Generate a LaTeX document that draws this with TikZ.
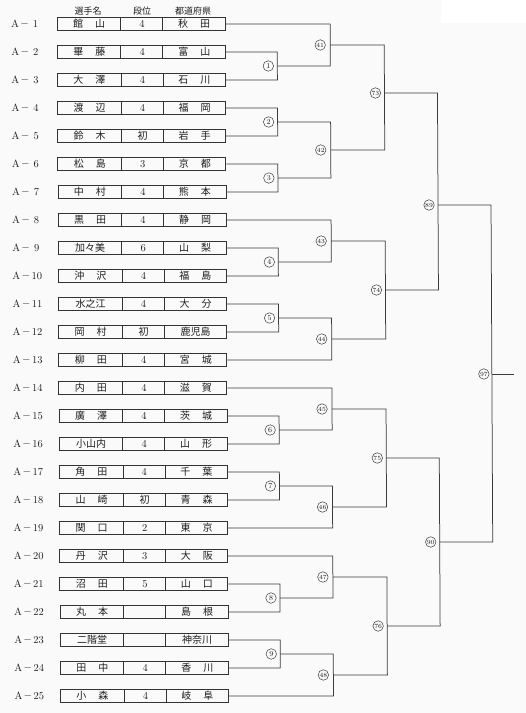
\documentclass[tikz,border=0pt]{standalone}
\usepackage{fontspec}
\newfontfamily\jp{Noto Sans CJK JP}
\newcommand\js{\hspace{12pt}}
\definecolor{bgc}{HTML}{FAFAFA}
\definecolor{boxc}{HTML}{333333}
\definecolor{linec}{HTML}{3A3A3A}
\definecolor{txt}{HTML}{1E1E1E}
\begin{document}
\begin{tikzpicture}[x=1pt,y=-1pt,
  rowbox/.style={draw=boxc, line width=0.9pt, minimum width=168pt, minimum height=13pt, inner sep=0pt},
  divline/.style={draw=boxc, line width=0.8pt},
  cjk/.style={font=\jp\fontsize{10}{10}\selectfont, text=txt, inner sep=0pt},
  num/.style={font=\fontsize{10.5}{10.5}\selectfont, text=txt, inner sep=0pt},
  head/.style={font=\jp\fontsize{9}{9}\selectfont, text=txt, inner sep=0pt},
  conn/.style={draw=linec, line width=0.75pt},
  mlab/.style={circle, draw=linec, line width=0.5pt, minimum size=10.5pt, inner sep=0pt, fill=bgc, font=\fontsize{7.5}{7.5}\selectfont, text=txt},
  mlabs/.style={mlab, font=\fontsize{6.3}{6.3}\selectfont},
]
\useasboundingbox (0,0) rectangle (526,713);
\fill[bgc] (0,0) rectangle (526,713);
\fill[white] (441,0) rectangle (526,23);
\begin{scope}[xslant=-0.005]
\node[head] (h1) at (88,11) {選手名};
\node[head] (h2) at (142,11) {段位};
\node[head] (h3) at (193,11) {都道府県};
\foreach \i/\nm/\dan/\pref in {
1/{館\js 山}/4/{秋\js 田},
2/{畢\js 藤}/4/{富\js 山},
3/{大\js 澤}/4/{石\js 川},
4/{渡\js 辺}/4/{福\js 岡},
5/{鈴\js 木}/{\jp\fontsize{10}{10}\selectfont 初}/{岩\js 手},
6/{松\js 島}/3/{京\js 都},
7/{中\js 村}/4/{熊\js 本},
8/{黒\js 田}/4/{静\js 岡},
9/{加々美}/6/{山\js 梨},
10/{沖\js 沢}/4/{福\js 島},
11/{水之江}/4/{大\js 分},
12/{岡\js 村}/{\jp\fontsize{10}{10}\selectfont 初}/{鹿児島},
13/{柳\js 田}/4/{宮\js 城},
14/{内\js 田}/4/{滋\js 賀},
15/{廣\js 澤}/4/{茨\js 城},
16/{小山内}/4/{山\js 形},
17/{角\js 田}/4/{千\js 葉},
18/{山\js 崎}/{\jp\fontsize{10}{10}\selectfont 初}/{青\js 森},
19/{関\js 口}/2/{東\js 京},
20/{丹\js 沢}/3/{大\js 阪},
21/{沼\js 田}/5/{山\js 口},
22/{丸\js 本}/{}/{島\js 根},
23/{二階堂}/{}/{神奈川},
24/{田\js 中}/4/{香\js 川},
25/{小\js 森}/4/{岐\js 阜}}{
  \pgfmathsetmacro\yy{24+28*(\i-1)}
  \node[rowbox] (r\i) at (141,\yy) {};
  \draw[divline] ([xshift=64pt]r\i.north west) -- ([xshift=64pt]r\i.south west);
  \draw[divline] ([xshift=106pt]r\i.north west) -- ([xshift=106pt]r\i.south west);
  \node[cjk] (n\i) at (89,\yy) {\nm};
  \node[num] (d\i) at (142,\yy) {\dan};
  \node[cjk] (p\i) at (194,\yy) {\pref};
  \node[num] (la\i) at (15,\yy) {A};
  \node[num] (ld\i) at (24.5,\yy) {$-$};
  \node[num] (ln\i) at (35.5,\yy) {\i};
}
% match points
\coordinate (m1) at (277,66);
\coordinate (m2) at (277,122);
\coordinate (m3) at (277,178);
\coordinate (m4) at (277,262);
\coordinate (m5) at (277,318);
\coordinate (m6) at (277,430);
\coordinate (m7) at (277,486);
\coordinate (m8) at (277,598);
\coordinate (m9) at (277,654);
\coordinate (m41) at (330,45);
\coordinate (m42) at (330,150);
\coordinate (m43) at (330,241);
\coordinate (m44) at (330,339);
\coordinate (m45) at (330,409);
\coordinate (m46) at (330,507);
\coordinate (m47) at (330,577);
\coordinate (m48) at (330,675);
\coordinate (m73) at (384,93);
\coordinate (m74) at (384,290);
\coordinate (m75) at (384,458);
\coordinate (m76) at (384,626);
\coordinate (m89) at (437,205);
\coordinate (m90) at (437,542);
\coordinate (m97) at (490,374);
\coordinate (fin) at (512,374);
% round 1
\draw[conn] (r2.east) -| (m1) (r3.east) -| (m1);
\draw[conn] (r4.east) -| (m2) (r5.east) -| (m2);
\draw[conn] (r6.east) -| (m3) (r7.east) -| (m3);
\draw[conn] (r9.east) -| (m4) (r10.east) -| (m4);
\draw[conn] (r11.east) -| (m5) (r12.east) -| (m5);
\draw[conn] (r15.east) -| (m6) (r16.east) -| (m6);
\draw[conn] (r17.east) -| (m7) (r18.east) -| (m7);
\draw[conn] (r21.east) -| (m8) (r22.east) -| (m8);
\draw[conn] (r23.east) -| (m9) (r24.east) -| (m9);
% round 2
\draw[conn] (r1.east) -| (m41) (m1) -| (m41);
\draw[conn] (m2) -| (m42) (m3) -| (m42);
\draw[conn] (r8.east) -| (m43) (m4) -| (m43);
\draw[conn] (m5) -| (m44) (r13.east) -| (m44);
\draw[conn] (r14.east) -| (m45) (m6) -| (m45);
\draw[conn] (m7) -| (m46) (r19.east) -| (m46);
\draw[conn] (r20.east) -| (m47) (m8) -| (m47);
\draw[conn] (m9) -| (m48) (r25.east) -| (m48);
% round 3
\draw[conn] (m41) -| (m73) (m42) -| (m73);
\draw[conn] (m43) -| (m74) (m44) -| (m74);
\draw[conn] (m45) -| (m75) (m46) -| (m75);
\draw[conn] (m47) -| (m76) (m48) -| (m76);
% round 4
\draw[conn] (m73) -| (m89) (m74) -| (m89);
\draw[conn] (m75) -| (m90) (m76) -| (m90);
% final
\draw[conn] (m89) -| (m97) (m90) -| (m97);
\draw[conn] (m97) -- (fin);
% labels
\foreach \k in {1,...,9}{
  \node[mlab] (c\k) at ([xshift=-9pt]m\k) {\k};
}
\foreach \k in {41,...,48}{
  \node[mlabs] (c\k) at ([xshift=-10pt]m\k) {\k};
}
\foreach \k in {73,74,75,76}{
  \node[mlabs] (c\k) at ([xshift=-9pt]m\k) {\k};
}
\node[mlabs] (c89) at ([xshift=-9pt]m89) {89};
\node[mlabs] (c90) at ([xshift=-9pt]m90) {90};
\node[mlabs] (c97) at ([xshift=-8pt]m97) {97};
\end{scope}
\end{tikzpicture}
\end{document}
